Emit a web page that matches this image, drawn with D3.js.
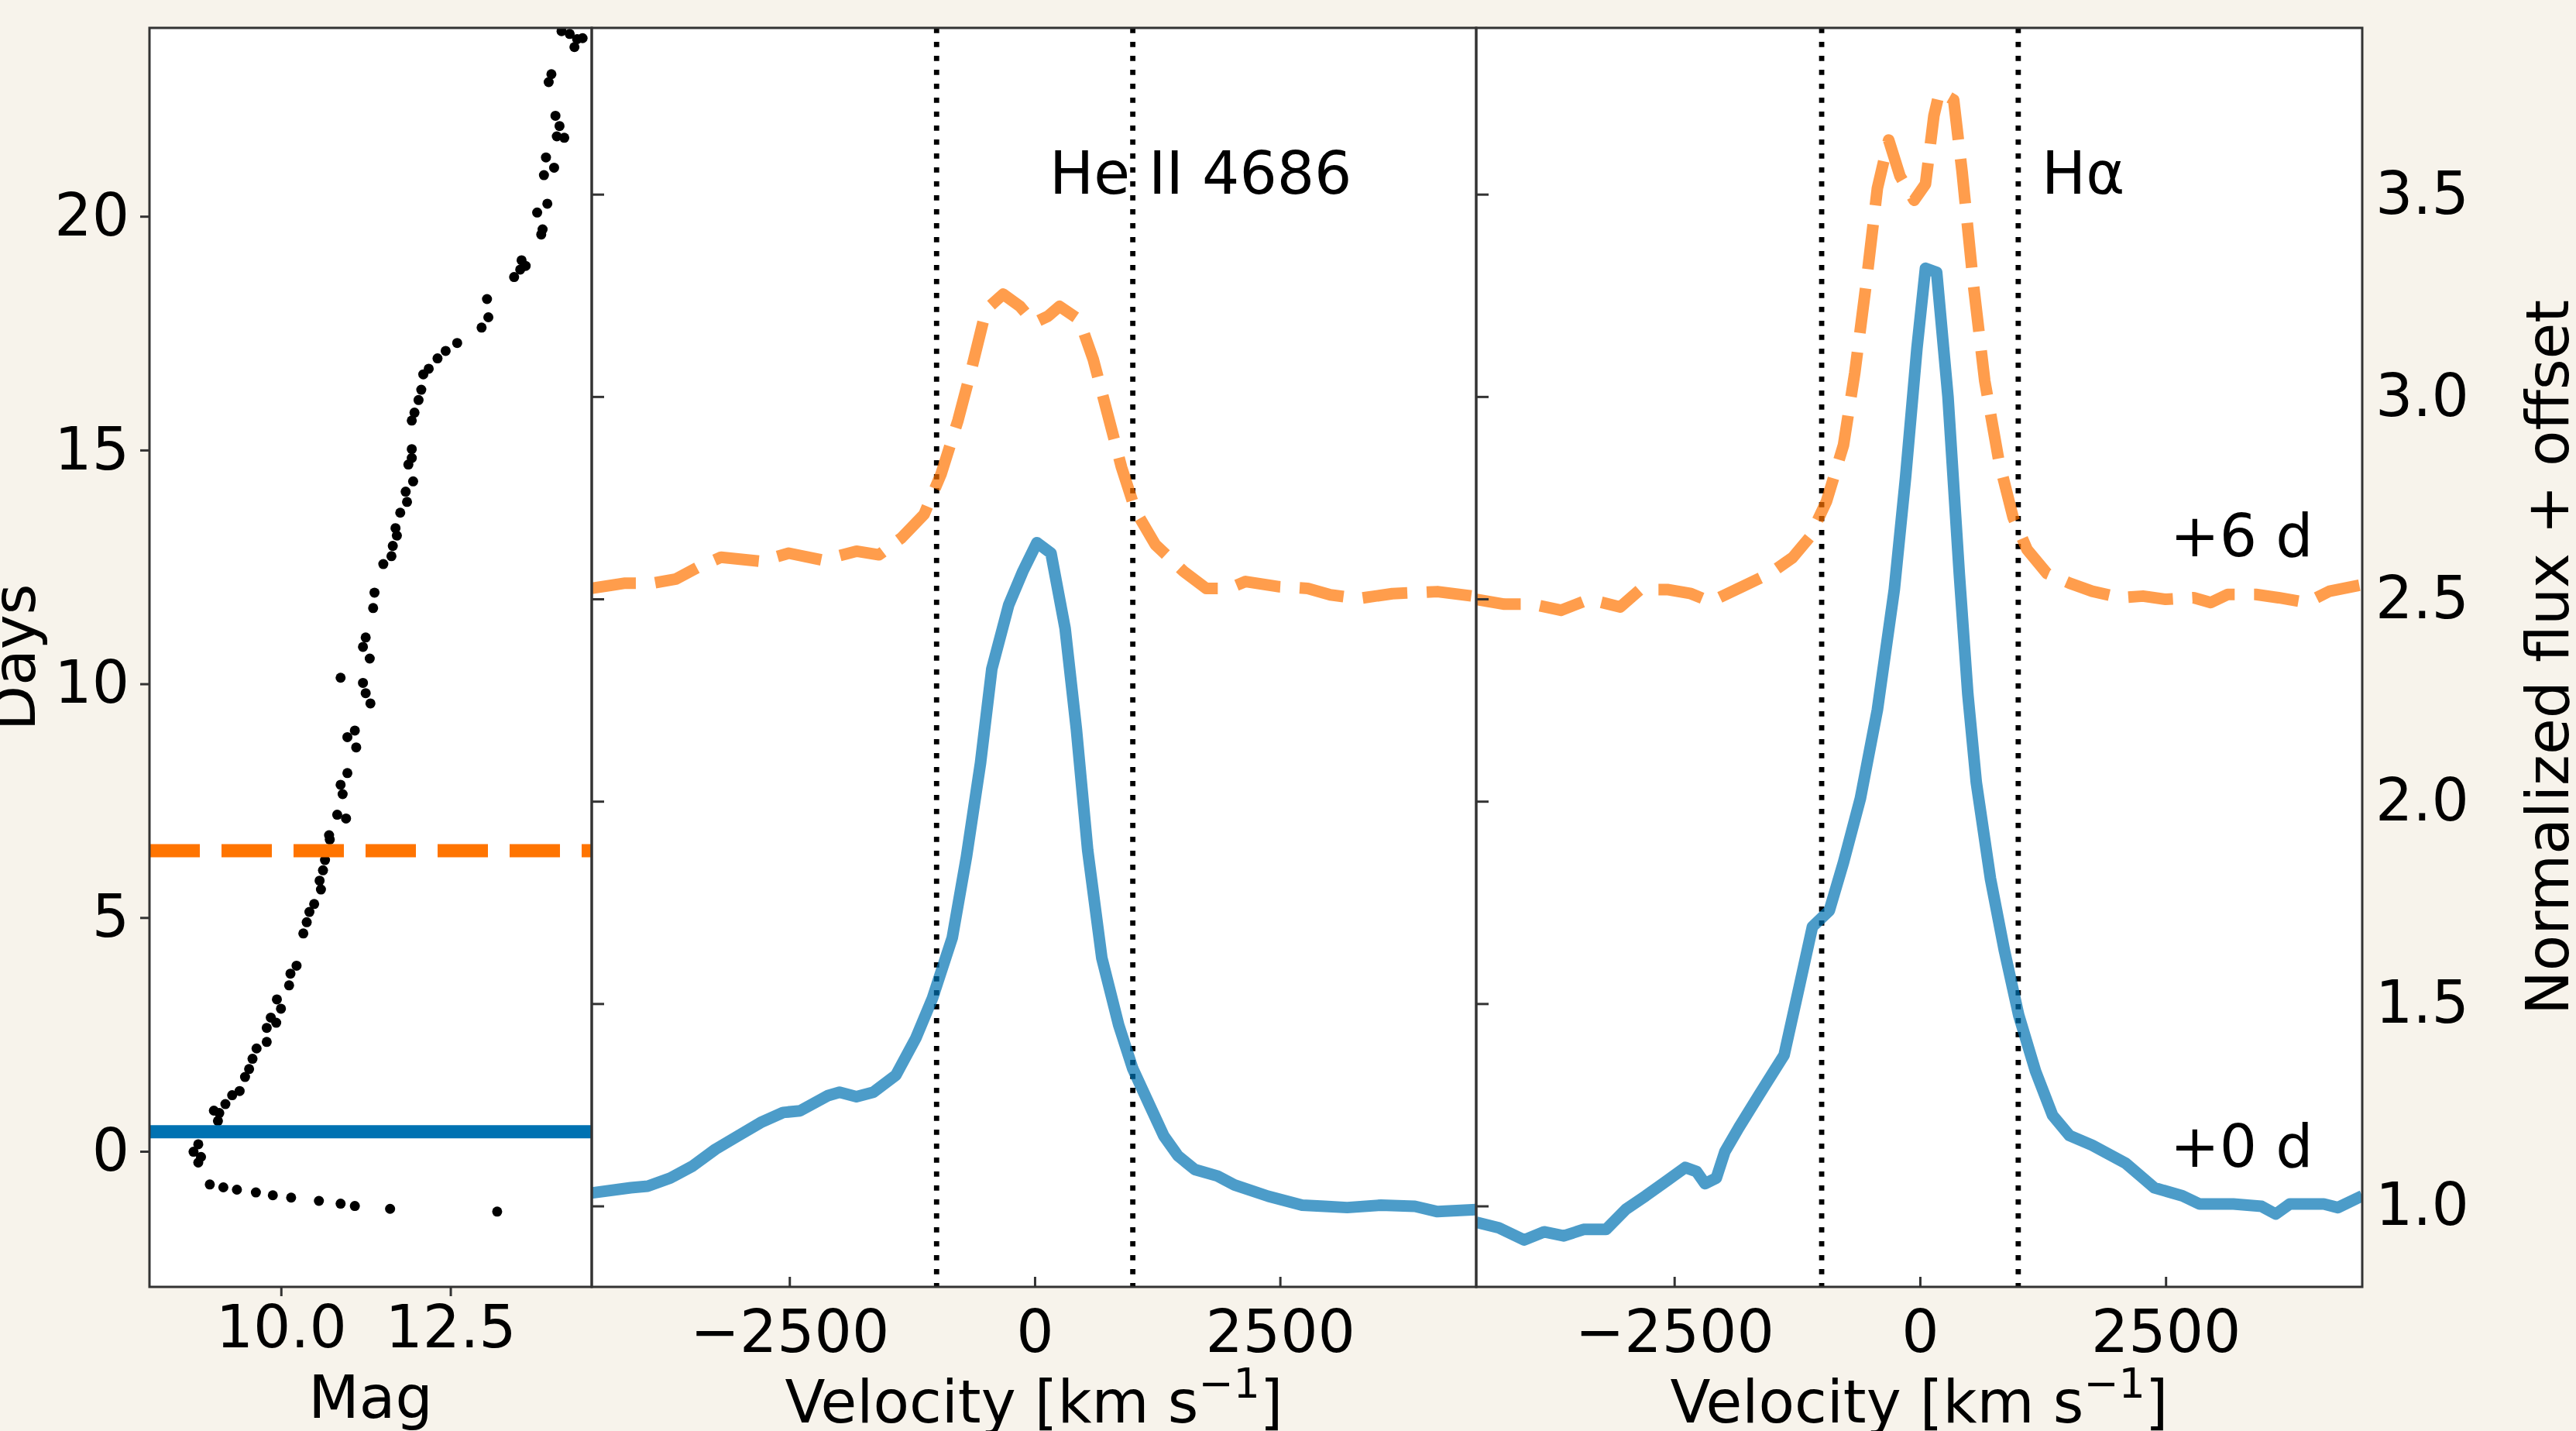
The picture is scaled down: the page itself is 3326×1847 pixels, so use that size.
<!DOCTYPE html>
<html>
<head>
<meta charset="utf-8">
<script src="https://cdn.jsdelivr.net/npm/d3@7"></script>
<style>
  body { margin: 0; background: #f7f3eb; }
  text { font-family: "DejaVu Sans", sans-serif; fill: #000; }
</style>
</head>
<body>
<div id="chart"></div>
<script>
// Data ----------------------------------------------
// light curve: magnitude vs days
const lcMag = [8.95, 9.15, 9.35, 9.63, 9.88, 10.15, 10.56, 10.88, 11.09, 11.61, 13.19,
  8.78, 8.71, 8.82, 8.78, 9.07, 9.09, 9.01, 9.18, 9.28, 9.39, 9.47, 9.53, 9.58, 9.64,
  9.79, 9.79, 9.93, 9.85, 10.0, 9.94, 10.12, 10.14, 10.23, 10.33, 10.38, 10.42, 10.49,
  10.59, 10.57, 10.62, 10.65, 10.72, 10.71, 10.83, 10.96, 10.91, 10.88, 10.98, 11.11,
  10.98, 11.09, 11.32, 11.25, 11.21, 10.88, 11.31, 11.21, 11.25, 11.36, 11.38, 11.51,
  11.63, 11.65, 11.71, 11.69, 11.76, 11.86, 11.84, 11.95, 11.88, 11.93, 11.93, 11.93,
  11.97, 12.03, 12.07, 12.10, 12.18, 12.31, 12.43, 12.60, 12.96, 13.06, 13.04, 13.44,
  13.53, 13.61, 13.55, 13.84, 13.86, 13.78, 13.93, 13.88, 14.03, 13.91, 14.07, 14.18,
  14.11, 14.05, 13.95, 13.99, 14.33, 14.37, 14.45, 14.14, 14.26];
const lcDays = [-0.71, -0.77, -0.82, -0.88, -0.94, -0.99, -1.06, -1.12, -1.17, -1.23, -1.29,
  0.15, -0.01, -0.12, -0.24, 0.65, 0.82, 0.87, 1.01, 1.20, 1.29, 1.59, 1.76, 1.98, 2.20,
  2.34, 2.64, 2.75, 2.86, 3.05, 3.25, 3.55, 3.80, 3.97, 4.66, 4.90, 5.12, 5.29,
  5.60, 5.79, 6.01, 6.23, 6.67, 6.76, 7.20, 7.12, 7.64, 7.84, 8.09, 8.64,
  8.86, 9.00, 9.58, 9.80, 10.02, 10.13, 10.54, 10.79, 10.99, 11.62, 11.95, 12.56,
  12.73, 12.95, 13.17, 13.33, 13.66, 13.89, 14.11, 14.33, 14.69, 14.83, 15.02, 15.63,
  15.80, 16.07, 16.29, 16.62, 16.74, 16.96, 17.12, 17.29, 17.62, 17.84, 18.23, 18.70,
  18.86, 18.94, 19.06, 19.61, 19.72, 20.08, 20.27, 20.88, 21.04, 21.26, 21.71, 21.68,
  21.93, 22.15, 22.87, 23.04, 23.62, 23.79, 23.81, 23.96, 23.90];

// epochs of the two spectra (days)
const epochDays = [0.42, 6.43];
const epochLabels = ["+0 d", "+6 d"];

// He II 4686, +0 d
const heVel0 = [-4519, -4117, -3944, -3714, -3484, -3254, -3024, -2794, -2564, -2392, -2104, -1989,
  -1817, -1645, -1415, -1213, -1041, -840, -696, -552, -437, -265, -121, 23, 166, 310, 425, 540,
  684, 856, 1000, 1173, 1316, 1460, 1632, 1863, 2035, 2380, 2725, 2955, 3185, 3530, 3875, 4105, 4496];
const heFlux0 = [1.032, 1.045, 1.049, 1.069, 1.099, 1.140, 1.173, 1.206, 1.231, 1.235, 1.273, 1.281,
  1.270, 1.281, 1.323, 1.414, 1.514, 1.663, 1.862, 2.095, 2.327, 2.485, 2.568, 2.639, 2.613, 2.427,
  2.178, 1.879, 1.613, 1.447, 1.339, 1.248, 1.173, 1.124, 1.090, 1.074, 1.052, 1.024, 1.002, 0.999,
  0.996, 1.002, 0.999, 0.986, 0.991];

// He II 4686, +6 d
const heVel6 = [-4519, -4174, -3887, -3657, -3427, -3197, -2794, -2507, -2162, -1817, -1587, -1357,
  -1127, -955, -782, -638, -495, -322, -150, -6, 138, 253, 454, 598, 742, 885, 1029, 1230, 1518,
  1748, 1978, 2150, 2495, 2783, 3013, 3300, 3645, 4105, 4496];
const heFlux6 = [2.526, 2.539, 2.539, 2.549, 2.579, 2.603, 2.593, 2.613, 2.596, 2.618, 2.609, 2.651,
  2.709, 2.808, 2.941, 3.074, 3.215, 3.253, 3.223, 3.182, 3.199, 3.223, 3.190, 3.091, 2.958, 2.825,
  2.717, 2.634, 2.568, 2.526, 2.526, 2.543, 2.530, 2.526, 2.510, 2.501, 2.513, 2.518, 2.506];

// H-alpha, +0 d
const haVel0 = [-4515, -4285, -4026, -3825, -3624, -3423, -3193, -2991, -2790, -2560, -2388, -2273,
  -2187, -2072, -1985, -1842, -1641, -1382, -1238, -1094, -922, -778, -606, -433, -261, -146, -31,
  56, 170, 285, 400, 487, 573, 717, 860, 1004, 1176, 1349, 1521, 1752, 2096, 2384, 2671, 2844,
  3189, 3476, 3620, 3764, 4109, 4252, 4500];
const haFlux0 = [0.960, 0.946, 0.916, 0.936, 0.926, 0.942, 0.942, 0.992, 1.025, 1.065, 1.095, 1.085,
  1.055, 1.069, 1.134, 1.194, 1.273, 1.373, 1.531, 1.690, 1.730, 1.849, 2.007, 2.226, 2.523, 2.801,
  3.118, 3.317, 3.307, 3.000, 2.563, 2.265, 2.047, 1.809, 1.630, 1.472, 1.333, 1.224, 1.174, 1.150,
  1.105, 1.045, 1.025, 1.005, 1.005, 0.999, 0.980, 1.005, 1.005, 0.996, 1.025];

// H-alpha, +6 d
const haVel6 = [-4515, -4228, -3940, -3653, -3365, -3049, -2848, -2560, -2330, -2129, -1871, -1698,
  -1525, -1296, -1123, -951, -778, -663, -548, -433, -318, -203, -59, 56, 142, 199, 343, 429, 544,
  659, 803, 947, 1090, 1292, 1521, 1752, 2039, 2269, 2499, 2786, 2958, 3131, 3418, 3649, 3936,
  4166, 4500];
const haFlux6 = [2.499, 2.487, 2.487, 2.472, 2.499, 2.480, 2.523, 2.523, 2.513, 2.493, 2.523, 2.543,
  2.563, 2.602, 2.652, 2.741, 2.880, 3.059, 3.277, 3.515, 3.634, 3.545, 3.485, 3.525, 3.694, 3.753,
  3.733, 3.555, 3.277, 3.039, 2.841, 2.702, 2.622, 2.563, 2.539, 2.519, 2.503, 2.507, 2.499, 2.503,
  2.491, 2.511, 2.511, 2.503, 2.491, 2.519, 2.535];

// ticks and labels
const lcMagTicks = [10.0, 12.5];
const lcDayTicks = [0, 5, 10, 15, 20];
const velTicks = [-2500, 0, 2500];
const fluxTicks = [1.0, 1.5, 2.0, 2.5, 3.0, 3.5];
const windowVel = [-1000, 1000];
const lineNames = ["He II 4686", "H\u03b1"];

// Constants ----------------------------------------------
const width = 3326;
const height = 1847;
const plotTop = 36, plotBottom = 1661;
const panelX = [193, 764, 1906, 3050];
const fontSize = 76;

const blue = "#0072b2";
const orange = "#ff7400";
const spineColor = "#333333";

// Scales ----------------------------------------------
const xMag = d3.scaleLinear().domain([8.06, 14.585]).range([panelX[0], panelX[1]]);
const yDays = d3.scaleLinear().domain([-2.9, 24.03]).range([plotBottom, plotTop]);
const yFlux = d3.scaleLinear().domain([0.80, 3.911]).range([plotBottom, plotTop]);
const xVel = [
  d3.scaleLinear().domain([-4515, 4500]).range([panelX[1], panelX[2]]),
  d3.scaleLinear().domain([-4515, 4500]).range([panelX[2], panelX[3]])
];

const svg = d3.select("#chart").append("svg")
  .attr("width", width)
  .attr("height", height);

svg.append("rect").attr("width", width).attr("height", height).attr("fill", "#f7f3eb");

const defs = svg.append("defs");
[0, 1, 2].forEach(i => {
  defs.append("clipPath").attr("id", `clip${i}`)
    .append("rect")
    .attr("x", panelX[i]).attr("y", plotTop)
    .attr("width", panelX[i + 1] - panelX[i]).attr("height", plotBottom - plotTop);
});

// Panel backgrounds
[0, 1, 2].forEach(i => {
  svg.append("rect")
    .attr("x", panelX[i]).attr("y", plotTop)
    .attr("width", panelX[i + 1] - panelX[i]).attr("height", plotBottom - plotTop)
    .attr("fill", "#ffffff");
});

// Light curve panel ----------------------------------------------
const lc = svg.append("g").attr("clip-path", "url(#clip0)");

lc.selectAll("circle")
  .data(lcMag.map((m, i) => ({mag: m, day: lcDays[i]})))
  .enter()
  .append("circle")
  .attr("cx", d => xMag(d.mag))
  .attr("cy", d => yDays(d.day))
  .attr("r", 6.5)
  .attr("fill", "#000");

lc.selectAll("line.epoch")
  .data(epochDays)
  .enter()
  .append("line")
  .attr("class", "epoch")
  .attr("x1", panelX[0]).attr("x2", panelX[1])
  .attr("y1", d => yDays(d)).attr("y2", d => yDays(d))
  .attr("stroke", (d, i) => i === 0 ? blue : orange)
  .attr("stroke-width", 17)
  .attr("stroke-dasharray", (d, i) => i === 0 ? null : "65 28");

// left axis
const lcAxisY = d3.axisLeft(yDays).tickValues(lcDayTicks).tickSize(12).tickPadding(14)
  .tickFormat(d3.format("d"));
svg.append("g").attr("transform", `translate(${panelX[0]},0)`).call(lcAxisY);

const lcAxisX = d3.axisBottom(xMag).tickValues(lcMagTicks).tickSize(12).tickPadding(12)
  .tickFormat(d3.format(".1f"));
svg.append("g").attr("transform", `translate(0,${plotBottom})`).call(lcAxisX);

svg.append("text")
  .attr("x", (panelX[0] + panelX[1]) / 2).attr("y", 1830)
  .attr("text-anchor", "middle").attr("font-size", fontSize)
  .text("Mag");

svg.append("text")
  .attr("transform", `translate(45,${(plotTop + plotBottom) / 2}) rotate(-90)`)
  .attr("text-anchor", "middle").attr("font-size", fontSize)
  .text("Days");

// Spectra panels ----------------------------------------------
const spectra = [
  [{v: heVel0, f: heFlux0}, {v: heVel6, f: heFlux6}],
  [{v: haVel0, f: haFlux0}, {v: haVel6, f: haFlux6}]
];

spectra.forEach((pair, p) => {
  const x = xVel[p];
  const g = svg.append("g").attr("clip-path", `url(#clip${p + 1})`);

  const line = d3.line()
    .x(d => x(d[0]))
    .y(d => yFlux(d[1]));

  g.selectAll("line.window")
    .data(windowVel)
    .enter()
    .append("line")
    .attr("class", "window")
    .attr("x1", d => x(d)).attr("x2", d => x(d))
    .attr("y1", plotTop).attr("y2", plotBottom)
    .attr("stroke", "#000")
    .attr("stroke-width", 6.8)
    .attr("stroke-dasharray", "6.8 11.2");

  pair.forEach((s, i) => {
    g.append("path")
      .datum(s.v.map((v, k) => [v, s.f[k]]))
      .attr("d", line)
      .attr("fill", "none")
      .attr("stroke", i === 0 ? blue : orange)
      .attr("stroke-opacity", 0.7)
      .attr("stroke-width", 15)
      .attr("stroke-linejoin", "round")
      .attr("stroke-dasharray", i === 0 ? null : "58 25");
  });

  // bottom axis, ticks inward
  const ax = d3.axisBottom(x).tickValues(velTicks).tickSize(-13).tickPadding(30)
    .tickFormat(d => d3.format("d")(d).replace("-", "\u2212"));
  svg.append("g").attr("transform", `translate(0,${plotBottom})`).call(ax);

  // left ticks inward, no labels
  const ay = d3.axisLeft(yFlux).tickValues(fluxTicks).tickSize(-16).tickFormat("");
  svg.append("g").attr("transform", `translate(${panelX[p + 1]},0)`).call(ay);

  // line name
  svg.append("text")
    .attr("x", p === 0 ? 1355 : 2636).attr("y", 250)
    .attr("font-size", fontSize)
    .text(lineNames[p]);

  // x label
  const t = svg.append("text")
    .attr("x", (panelX[p + 1] + panelX[p + 2]) / 2).attr("y", 1836)
    .attr("text-anchor", "middle").attr("font-size", fontSize);
  t.append("tspan").text("Velocity [km s");
  t.append("tspan").attr("dy", -32).attr("font-size", 54).text("\u22121");
  t.append("tspan").attr("dy", 32).text("]");
});

// epoch labels on the H-alpha panel
svg.selectAll("text.epoch")
  .data(epochLabels)
  .enter()
  .append("text")
  .attr("class", "epoch")
  .attr("x", 2802)
  .attr("y", (d, i) => i === 0 ? 1506 : 718)
  .attr("font-size", fontSize)
  .text(d => d);

// right flux axis
const rightAxis = d3.axisRight(yFlux).tickValues(fluxTicks).tickSize(0).tickPadding(17)
  .tickFormat(d3.format(".1f"));
svg.append("g").attr("transform", `translate(${panelX[3]},0)`).call(rightAxis);

svg.append("text")
  .attr("transform", `translate(3316,${(plotTop + plotBottom) / 2}) rotate(-90)`)
  .attr("text-anchor", "middle").attr("font-size", fontSize)
  .text("Normalized flux + offset");

// Styling axes and spines ----------------------------------------------
svg.selectAll(".tick text")
  .attr("font-size", fontSize)
  .attr("font-family", "DejaVu Sans, sans-serif")
  .attr("fill", "#000");
svg.selectAll(".tick line").attr("stroke", spineColor).attr("stroke-width", 3);
svg.selectAll(".domain").remove();

[0, 1, 2].forEach(i => {
  svg.append("rect")
    .attr("x", panelX[i]).attr("y", plotTop)
    .attr("width", panelX[i + 1] - panelX[i]).attr("height", plotBottom - plotTop)
    .attr("fill", "none")
    .attr("stroke", spineColor)
    .attr("stroke-width", 3);
});
</script>
</body>
</html>
